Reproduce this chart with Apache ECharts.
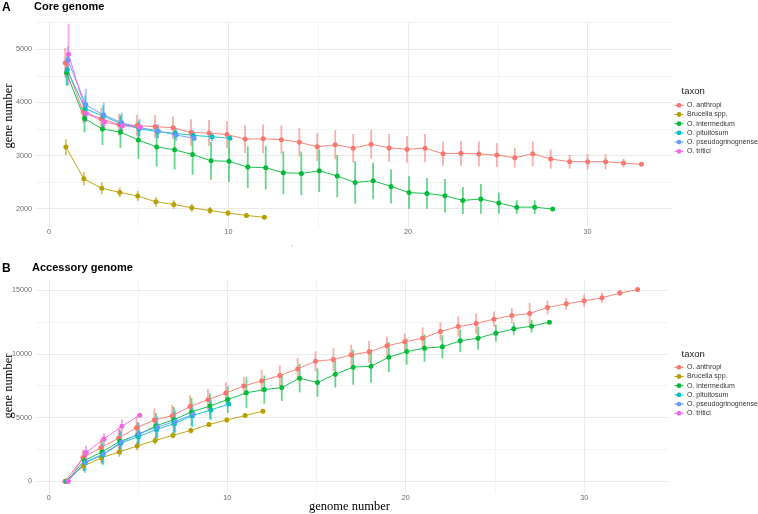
<!DOCTYPE html>
<html><head><meta charset="utf-8">
<script src="https://cdn.jsdelivr.net/npm/echarts@6/dist/echarts.min.js"></script>
<style>html,body{margin:0;padding:0;background:#fff}#c{width:758px;height:514px}</style>
</head><body><div id="c"></div>
<script>
// ---------- categories / ticks ----------
const taxa = ['O. anthropi', 'Brucella spp.', 'O. intermedium', 'O. pituitosum', 'O. pseudogrinognense', 'O. tritici'];
const xTicks = [0, 10, 20, 30];
const xMinorTicks = [5, 15, 25];
const coreTicks = [2000, 3000, 4000, 5000];
const coreMinorTicks = [2500, 3500, 4500, 5500];
const accTicks = [0, 5000, 10000, 15000];
const accMinorTicks = [2500, 7500, 12500];

// ---------- A: core genome (mean per genome number, starting at 1) ----------
const coreAnthropi = [4745, 3825, 3695, 3585, 3565, 3545, 3525, 3435, 3425, 3395, 3310, 3315, 3300, 3250, 3165, 3205, 3140, 3215, 3145, 3120, 3140, 3035, 3045, 3030, 3010, 2960, 3035, 2935, 2885, 2885, 2885, 2860, 2835];
const coreAnthropiSd = [280, 210, 200, 200, 205, 215, 210, 250, 245, 257, 265, 270, 265, 265, 265, 275, 265, 270, 265, 250, 265, 225, 235, 235, 225, 185, 235, 180, 130, 150, 145, 80, 0];
const coreBrucella = [3160, 2563, 2383, 2307, 2240, 2130, 2081, 2017, 1966, 1918, 1874, 1838];
const coreBrucellaSd = [150, 125, 115, 95, 95, 95, 80, 75, 65, 50, 40, 0];
const coreIntermedium = [4557, 3697, 3500, 3443, 3292, 3163, 3109, 3019, 2902, 2893, 2783, 2771, 2677, 2665, 2714, 2614, 2495, 2525, 2420, 2303, 2288, 2243, 2156, 2184, 2106, 2030, 2030, 1993];
const coreIntermediumSd = [240, 260, 300, 300, 350, 370, 370, 380, 355, 390, 390, 410, 400, 410, 400, 400, 400, 345, 320, 310, 290, 315, 255, 280, 200, 130, 130, 0];
const corePituitosum = [4615, 3880, 3745, 3600, 3505, 3452, 3418, 3380, 3355, 3325];
const corePituitosumSd = [300, 250, 200, 170, 150, 130, 110, 100, 80, 0];
const corePseudo = [4798, 3955, 3766, 3618, 3528, 3462, 3386, 3327];
const corePseudoSd = [260, 300, 230, 190, 160, 130, 110, 0];
const coreTritici = [4906, 3790, 3631, 3560, 3540];
const coreTriticiSd = [575, 160, 130, 100, 0];

// ---------- B: accessory genome ----------
const accAnthropi = [0, 1840, 2637, 3375, 4207, 4800, 5149, 5856, 6400, 6915, 7480, 7873, 8289, 8815, 9419, 9545, 9914, 10149, 10620, 10934, 11224, 11743, 12135, 12371, 12716, 12998, 13155, 13626, 13917, 14152, 14388, 14757, 15039];
const accAnthropiSd = [0, 600, 700, 800, 850, 900, 850, 900, 820, 850, 700, 850, 820, 850, 780, 915, 785, 850, 720, 650, 850, 720, 785, 810, 590, 590, 840, 535, 460, 485, 390, 210, 0];
const accBrucella = [0, 1201, 1840, 2300, 2771, 3200, 3611, 3990, 4450, 4800, 5160, 5494];
const accBrucellaSd = [0, 400, 420, 380, 330, 300, 250, 230, 200, 180, 150, 0];
const accIntermedium = [0, 1617, 2300, 3135, 3634, 4350, 4827, 5440, 5900, 6410, 6940, 7190, 7347, 8085, 7740, 8399, 8948, 9027, 9733, 10173, 10440, 10542, 11013, 11224, 11617, 11954, 12166, 12480];
const accIntermediumSd = [0, 800, 900, 900, 1000, 1000, 1000, 1100, 1000, 1050, 1200, 1100, 1050, 1110, 1110, 1050, 1370, 1300, 1180, 1020, 1070, 915, 890, 915, 650, 485, 500, 0];
const accPituitosum = [0, 1460, 2064, 2983, 3501, 4070, 4540, 5140, 5597, 6055];
const accPituitosumSd = [0, 800, 800, 900, 900, 900, 900, 900, 800, 0];
const accPseudo = [0, 1500, 2150, 3050, 3750, 4250, 4700, 5250];
const accPseudoSd = [0, 700, 800, 850, 850, 850, 850, 0];
const accTritici = [0, 2260, 3320, 4310, 5181];
const accTriticiSd = [0, 550, 450, 560, 0];

// ---------- styling ----------
const colors = ['#F8766D', '#B79F00', '#00BA38', '#00BFC4', '#619CFF', '#F564E3'];
const SANS = '"Liberation Sans", Arial, sans-serif';
const SERIF = '"Liberation Serif", "Times New Roman", serif';
const DODGE = 0.22;

const panels = [
  { means: [coreAnthropi, coreBrucella, coreIntermedium, corePituitosum, corePseudo, coreTritici],
    sds: [coreAnthropiSd, coreBrucellaSd, coreIntermediumSd, corePituitosumSd, corePseudoSd, coreTriticiSd],
    yMin: 1656, yMax: 5514, ticks: coreTicks, minor: coreMinorTicks },
  { means: [accAnthropi, accBrucella, accIntermedium, accPituitosum, accPseudo, accTritici],
    sds: [accAnthropiSd, accBrucellaSd, accIntermediumSd, accPituitosumSd, accPseudoSd, accTriticiSd],
    yMin: -941, yMax: 15729, ticks: accTicks, minor: accMinorTicks }
];

function dodgeOffset(means, ti, k) {
  // position_dodge: groups present at this genome number share the dodge width
  const present = [];
  means.forEach((m, i) => { if (k < m.length) present.push(i); });
  const n = present.length, r = present.indexOf(ti);
  if (n <= 1) return 0;
  return -DODGE / 2 + (r + 0.5) * DODGE / n;
}

const grids = [
  { left: 36, right: 86, top: 22, height: 205 },
  { left: 36, right: 90, top: 280.7, height: 212.6 }
];
grids.forEach(g => { g.containLabel = false; g.outerBoundsMode = 'none'; });

const xAxes = [], yAxes = [], series = [];
const labelStyle = { fontSize: 7.2, color: '#6b6b6b', fontFamily: SANS };
panels.forEach((p, gi) => {
  const xMain = { gridIndex: gi, type: 'value', min: -0.72, max: 34.7, position: 'bottom',
    axisLine: { show: false }, axisTick: { show: false, customValues: xTicks },
    axisLabel: Object.assign({ customValues: xTicks, margin: gi === 0 ? 2 : 1, formatter: v => String(v) }, labelStyle),
    splitLine: { show: true, lineStyle: { color: '#ebebeb', width: 1 } } };
  const xMinor = { gridIndex: gi, type: 'value', min: -0.72, max: 34.7, position: 'top',
    axisLine: { show: false }, axisTick: { show: false, customValues: xMinorTicks },
    axisLabel: { show: false, customValues: xMinorTicks },
    splitLine: { show: true, lineStyle: { color: '#f3f3f3', width: 1 } } };
  const yMain = { gridIndex: gi, type: 'value', min: p.yMin, max: p.yMax, position: 'left',
    axisLine: { show: false }, axisTick: { show: false, customValues: p.ticks },
    axisLabel: Object.assign({ customValues: p.ticks, margin: 4, formatter: v => String(v) }, labelStyle),
    splitLine: { show: true, lineStyle: { color: '#ebebeb', width: 1 } } };
  const yMinor = { gridIndex: gi, type: 'value', min: p.yMin, max: p.yMax, position: 'right',
    axisLine: { show: false }, axisTick: { show: false, customValues: p.minor },
    axisLabel: { show: false, customValues: p.minor },
    splitLine: { show: true, lineStyle: { color: '#f3f3f3', width: 1 } } };
  const xi = xAxes.length, yi = yAxes.length;
  xAxes.push(xMain, xMinor); yAxes.push(yMain, yMinor);

  p.means.forEach((m, ti) => {
    const sd = p.sds[ti];
    const pts = m.map((v, k) => [k + 1 + dodgeOffset(p.means, ti, k), v]);
    const bars = m.map((v, k) => [k + 1 + dodgeOffset(p.means, ti, k), v - sd[k], v + sd[k]]).filter((b, k) => sd[k] > 0);
    const col = colors[ti];
    series.push({
      type: 'custom', name: taxa[ti], xAxisIndex: xi, yAxisIndex: yi, z: 1, silent: true,
      data: bars, encode: { x: 0, y: [1, 2] },
      renderItem: (params, api) => {
        const a = api.coord([api.value(0), api.value(1)]);
        const b = api.coord([api.value(0), api.value(2)]);
        return { type: 'line', shape: { x1: a[0], y1: a[1], x2: b[0], y2: b[1] },
          style: { stroke: col, lineWidth: 1.8, opacity: 0.6 } };
      }
    });
    series.push({
      type: 'line', name: taxa[ti], xAxisIndex: xi, yAxisIndex: yi, z: 2, silent: true,
      data: pts, showSymbol: false, lineStyle: { color: col, width: 1, opacity: 0.9 }, itemStyle: { color: col }
    });
    series.push({
      type: 'scatter', name: taxa[ti], xAxisIndex: xi, yAxisIndex: yi, z: 3, silent: true,
      data: pts, symbol: 'circle', symbolSize: 5, itemStyle: { color: col, opacity: 1 }
    });
  });
});

// ---------- text & legends ----------
const graphic = [];
function txt(text, x, y, font, fill, align, extra) {
  return Object.assign({ type: 'text', x: x, y: y, silent: true,
    style: { text: text, x: 0, y: 0, font: font, fill: fill, align: align || 'left', verticalAlign: 'middle' } }, extra || {});
}
graphic.push(txt('A', 2, 7.5, 'bold 12px ' + SANS, '#000'));
graphic.push(txt('Core genome', 34, 6.5, 'bold 11px ' + SANS, '#000'));
graphic.push(txt('B', 2, 269, 'bold 12px ' + SANS, '#000'));
graphic.push(txt('Accessory genome', 32, 267.5, 'bold 11px ' + SANS, '#000'));
graphic.push(txt('gene number', 8.5, 116, '12.5px ' + SERIF, '#000', 'center', { rotation: Math.PI / 2 }));
graphic.push(txt('gene number', 8.5, 386, '12.5px ' + SERIF, '#000', 'center', { rotation: Math.PI / 2 }));
graphic.push(txt('genome number', 349.5, 506.5, '12.5px ' + SERIF, '#000', 'center'));
graphic.push(txt(',', 292, 244, '7px ' + SANS, '#999', 'center'));

const legends = [ { titleY: 91, firstY: 105.3 }, { titleY: 354.3, firstY: 367.3 } ];
legends.forEach(L => {
  graphic.push(txt('taxon', 681.5, L.titleY, '9.5px ' + SANS, '#222'));
  taxa.forEach((t, i) => {
    const y = L.firstY + i * 9.2;
    graphic.push({ type: 'line', silent: true, shape: { x1: 674.5, y1: y, x2: 683.5, y2: y }, style: { stroke: colors[i], lineWidth: 1 } });
    graphic.push({ type: 'circle', silent: true, shape: { cx: 679, cy: y, r: 2.4 }, style: { fill: colors[i] } });
    graphic.push(txt(t, 687, y, '7px ' + SANS, '#333'));
  });
});

const chart = echarts.init(document.getElementById('c'), null, { renderer: 'canvas' });
chart.setOption({
  animation: false,
  backgroundColor: '#fff',
  grid: grids,
  xAxis: xAxes,
  yAxis: yAxes,
  series: series,
  graphic: graphic
});
</script>
</body></html>
